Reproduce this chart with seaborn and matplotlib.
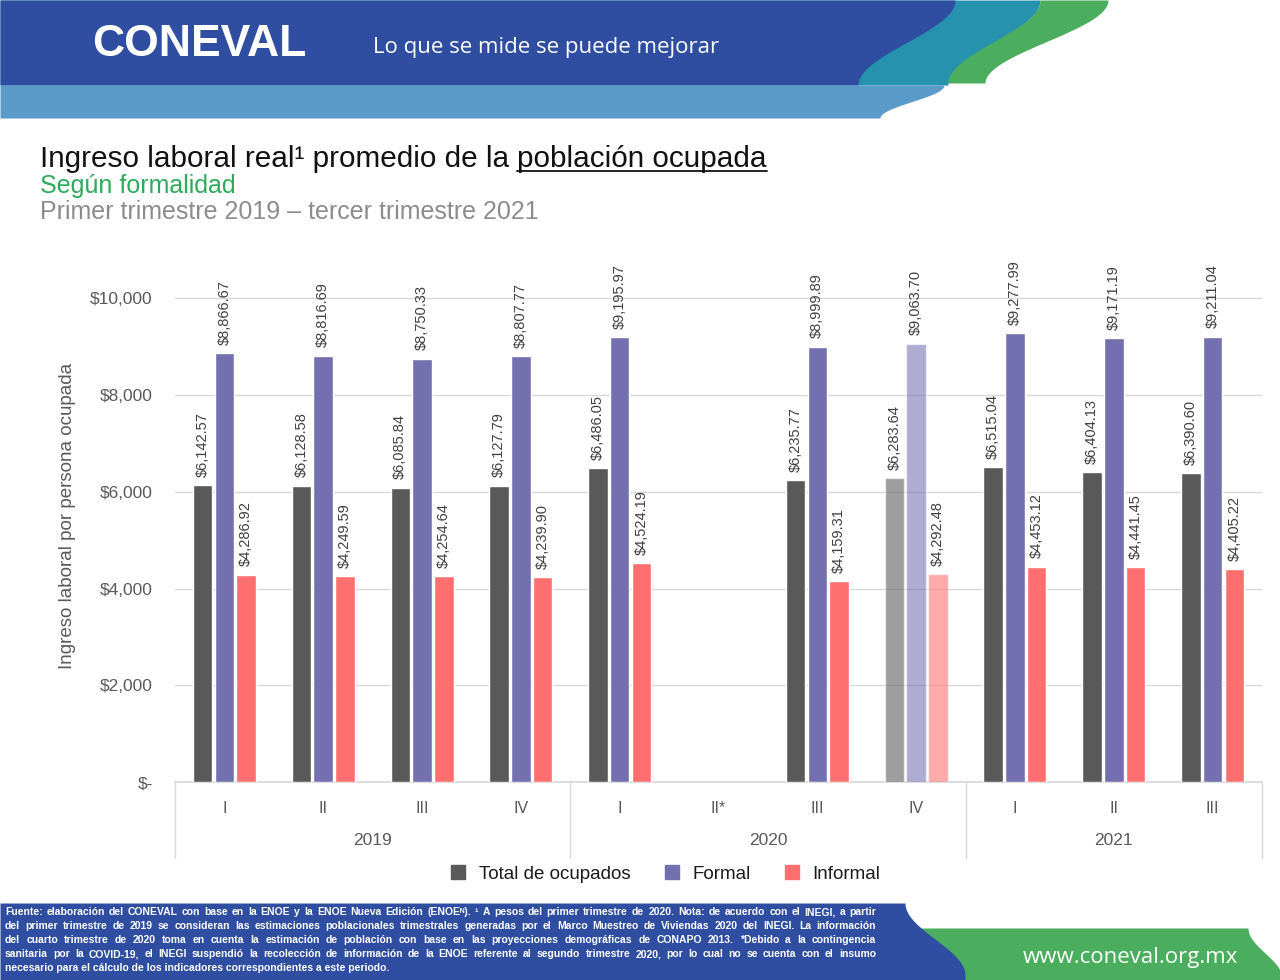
import numpy as np
import pandas as pd
import matplotlib
matplotlib.use("Agg")
import matplotlib.pyplot as plt
import seaborn as sns
from matplotlib.lines import Line2D

# --- data ---
years = ["2019", "2019", "2019", "2019", "2020", "2020", "2020", "2020", "2021", "2021", "2021"]
quarters = ["I", "II", "III", "IV", "I", "II*", "III", "IV", "I", "II", "III"]
total = [6142.57, 6128.58, 6085.84, 6127.79, 6486.05, np.nan, 6235.77, 6283.64, 6515.04, 6404.13, 6390.60]
formal = [8866.67, 8816.69, 8750.33, 8807.77, 9195.97, np.nan, 8999.89, 9063.70, 9277.99, 9171.19, 9211.04]
informal = [4286.92, 4249.59, 4254.64, 4239.90, 4524.19, np.nan, 4159.31, 4292.48, 4453.12, 4441.45, 4405.22]
series = ["Total de ocupados", "Formal", "Informal"]
colors = ["#595959", "#7470b0", "#ff6f6f"]
faded_period = "2020-IV"

periods = [f"{y}-{q}" for y, q in zip(years, quarters)]
df = pd.DataFrame({"periodo": periods * 3,
                   "serie": np.repeat(series, len(periods)),
                   "valor": total + formal + informal})

sns.set_theme(style="white")
plt.rcParams["font.family"] = ["Liberation Sans", "DejaVu Sans"]

W, H = 1280, 980
fig = plt.figure(figsize=(W / 100, H / 100), dpi=100)

# background layer in pixel coordinates (header, titles, footer)
bg = fig.add_axes([0, 0, 1, 1])
bg.set_xlim(0, W)
bg.set_ylim(H, 0)
bg.axis("off")


def s_edge(y, y0, y1, x0, x1):
    t = np.clip((y - y0) / (y1 - y0), 0, 1)
    return x0 + (x1 - x0) * (1 - np.cos(np.pi * t)) / 2


yy = np.linspace(0, 85, 200)
bg.fill_betweenx(yy, 0, s_edge(yy, 0, 85, 1040, 948), color="#2792ad", lw=0)
bg.fill_betweenx(yy, 0, s_edge(yy, 0, 85, 955, 858), color="#2f4ea1", lw=0)
yg = np.linspace(0, 83, 200)
bg.fill_betweenx(yg, s_edge(yg, 0, 83, 1040, 948), s_edge(yg, 0, 83, 1108, 985),
                 color="#4bae5f", lw=0)
yl = np.linspace(85, 118, 100)
bg.fill_betweenx(yl, 0, s_edge(yl, 85, 118, 944, 880), color="#5a9bc9", lw=0)

bg.text(92, 44, "CONEVAL", color="white", fontsize=32, fontweight="heavy",
        va="center", ha="left")
bg.text(373, 48, "Lo que se mide se puede mejorar", color="white", fontsize=16,
        family=["Open Sans", "DejaVu Sans"], va="center", ha="left")

# titles
t1 = bg.text(40, 167, "Ingreso laboral real\u00b9 promedio de la ", fontsize=21.4,
             color="#111111", va="baseline", ha="left")
fig.canvas.draw()
x2 = t1.get_window_extent().x1
t2 = fig.text(x2 / W, 1 - 167 / H, "población ocupada", fontsize=21.4,
              color="#111111", va="baseline", ha="left")
fig.canvas.draw()
bb2 = t2.get_window_extent()
bg.plot([bb2.x0, bb2.x1], [171, 171], color="#111111", lw=1.3)
bg.text(40, 193, "Según formalidad", fontsize=18, color="#2eaa5b",
        va="baseline", ha="left")
bg.text(40, 219, "Primer trimestre 2019 \u2013 tercer trimestre 2021", fontsize=18,
        color="#8c8c8c", va="baseline", ha="left")

# footer
yf = np.linspace(928, 980, 100)
bg.fill_betweenx(yf, 900, s_edge(yf, 928, 978, 1248, 1282), color="#4bae5f", lw=0)
yb = np.linspace(903, 980, 100)
bg.fill_betweenx(yb, 0, s_edge(yb, 903, 975, 905, 965), color="#2f4ea1", lw=0)
bg.text(1130, 957, "www.coneval.org.mx", color="white", fontsize=16,
        family=["Open Sans", "DejaVu Sans"], va="center", ha="center")

note_lines = [
    "Fuente: elaboración del CONEVAL con base en la ENOE y la ENOE Nueva Edición (ENOE\u1d3a). \u00b9 A pesos del primer trimestre de 2020. Nota: de acuerdo con el INEGI, a partir",
    "del primer trimestre de 2019 se consideran las estimaciones poblacionales trimestrales generadas por el Marco Muestreo de Viviendas 2020 del INEGI. La información",
    "del cuarto trimestre de 2020 toma en cuenta la estimación de población con base en las proyecciones demográficas de CONAPO 2013. *Debido a la contingencia",
    "sanitaria por la COVID-19, el INEGI suspendió la recolección de información de la ENOE referente al segundo trimestre 2020, por lo cual no se cuenta con el insumo",
    "necesario para el cálculo de los indicadores correspondientes a este periodo.",
]
note_kw = dict(color="white", fontsize=7.5, fontweight="bold", va="baseline", ha="left")
renderer = fig.canvas.get_renderer()


def note_family(word):
    # only the superscript N needs the DejaVu fallback
    return ["Liberation Sans", "DejaVu Sans"] if "\u1d3a" in word else "Liberation Sans"


for i, line in enumerate(note_lines):
    ypos = 915 + i * 14
    if i == len(note_lines) - 1:
        bg.text(5, ypos, line, family="Liberation Sans", **note_kw)
        continue
    # justify words between x=5 and x=876
    words = line.split(" ")
    objs = [bg.text(0, ypos, w, family=note_family(w), **note_kw) for w in words]
    widths = [o.get_window_extent(renderer).width for o in objs]
    space = max((876 - 5 - sum(widths)) / (len(words) - 1), 1.5)
    x = 5
    for o, w in zip(objs, widths):
        o.set_x(x)
        x += w + space

# --- chart ---
ax = fig.add_axes([175 / W, (H - 782) / H, (1262 - 175) / W, (782 - 250) / H])
ax.set_facecolor("none")
sns.barplot(data=df, x="periodo", y="valor", hue="serie", order=periods,
            hue_order=series, palette=colors, saturation=1, width=0.66, gap=0.1,
            errorbar=None, legend=False, ax=ax, zorder=3)

fade_idx = periods.index(faded_period)
for p in ax.patches:
    if abs(p.get_x() + p.get_width() / 2 - fade_idx) < 0.45:
        p.set_alpha(0.58)

for c in ax.containers:
    ax.bar_label(c, fmt=lambda v: f"${v:,.2f}", rotation=90, padding=6,
                 fontsize=10.5, color="#404040")

ax.set_ylim(0, 11000)
ax.set_xlim(-0.5, len(periods) - 0.5)
ax.set_yticks([0, 2000, 4000, 6000, 8000, 10000])
ax.set_yticklabels(["$-", "$2,000", "$4,000", "$6,000", "$8,000", "$10,000"])
ax.tick_params(axis="y", length=0, pad=16, labelsize=12.5, labelcolor="#595959")
ax.yaxis.grid(True, color="#d9d9d9", lw=1, zorder=0)
ax.set_axisbelow(True)
for s in ["top", "right", "left"]:
    ax.spines[s].set_visible(False)
ax.spines["bottom"].set_color("#d9d9d9")
ax.set_xticks(range(len(periods)))
ax.set_xticklabels(quarters)
ax.tick_params(axis="x", length=0, pad=14, labelsize=11.5, labelcolor="#595959")
ax.set_xlabel("")
ax.set_ylabel("Ingreso laboral por persona ocupada", fontsize=13.5, color="#595959",
              labelpad=10)

# year grouping below the quarters
trans = ax.get_xaxis_transform()
px = 1 / (782 - 250)
year_names = list(dict.fromkeys(years))
for yname in year_names:
    idx = [i for i, y in enumerate(years) if y == yname]
    ax.text((idx[0] + idx[-1]) / 2, -58 * px, yname, transform=trans, ha="center",
            va="center", fontsize=12.5, color="#595959")
bounds = [-0.5] + [max(i for i, y in enumerate(years) if y == yn) + 0.5 for yn in year_names]
for b in bounds:
    ax.plot([b, b], [0, -76 * px], transform=trans, color="#d9d9d9", lw=1, clip_on=False)

handles = [Line2D([], [], marker="s", linestyle="none", markersize=10, color=c) for c in colors]
fig.legend(handles, series, loc="center", bbox_to_anchor=(660 / W, 1 - 874 / H), ncol=3,
           frameon=False, fontsize=13.5, handletextpad=0.1, columnspacing=1.2,
           labelcolor="#1a1a1a")

fig.savefig("out.png", dpi=100)
